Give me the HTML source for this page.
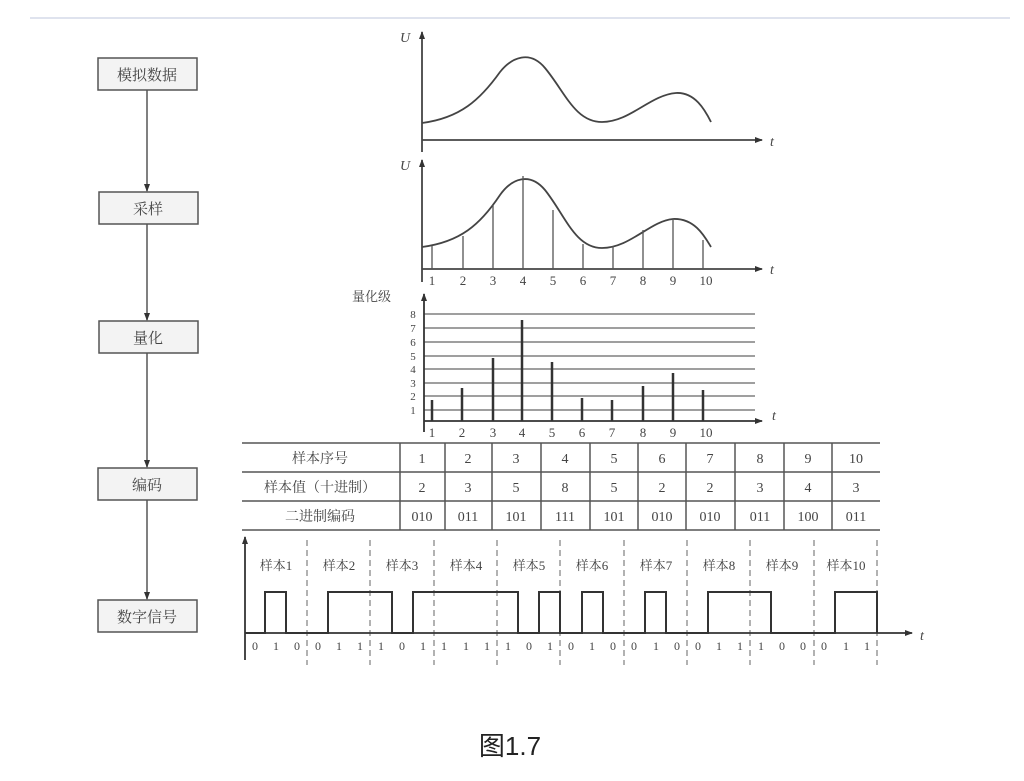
<!DOCTYPE html>
<html><head><meta charset="utf-8"><style>
html,body{margin:0;padding:0;background:#fff;}
svg{display:block;}
text{font-family:"Liberation Serif","Noto Serif CJK SC","Noto Sans CJK SC",serif;fill:#444;}
</style></head><body>
<svg width="1024" height="781" viewBox="0 0 1024 781" xmlns="http://www.w3.org/2000/svg">
<defs>
<marker id="ar" markerWidth="8" markerHeight="8" refX="7" refY="4" orient="auto" markerUnits="userSpaceOnUse"><path d="M0,1 L8,4 L0,7 z" fill="#333"/></marker>
</defs>
<line x1="30" y1="18" x2="1010" y2="18" stroke="#dfe3ee" stroke-width="2"/>

<!-- left flow -->
<g stroke="#555" stroke-width="1.5" fill="#f3f3f3">
<rect x="98" y="58" width="99" height="32"/>
<rect x="99" y="192" width="99" height="32"/>
<rect x="99" y="321" width="99" height="32"/>
<rect x="98" y="468" width="99" height="32"/>
<rect x="98" y="600" width="99" height="32"/>
</g>
<g stroke="#555" stroke-width="1.5" marker-end="url(#ar)">
<line x1="147" y1="90" x2="147" y2="191"/>
<line x1="147" y1="224" x2="147" y2="320"/>
<line x1="147" y1="353" x2="147" y2="467"/>
<line x1="147" y1="500" x2="147" y2="599"/>
</g>
<g font-size="15" text-anchor="middle">
<text x="147" y="80">模拟数据</text>
<text x="148" y="214">采样</text>
<text x="148" y="343">量化</text>
<text x="147" y="490">编码</text>
<text x="147" y="622">数字信号</text>
</g>

<!-- graph 1 -->
<g stroke="#444" stroke-width="1.8" fill="none">
<line x1="422" y1="152" x2="422" y2="32" marker-end="url(#ar)"/>
<line x1="422" y1="140" x2="762" y2="140" marker-end="url(#ar)"/>
<path d="M422,123 C460,118 480,100 500,72 C512,57 530,50 545,68 C565,92 575,122 602,122 C630,122 650,95 676,93 C695,92 705,110 711,122"/>
<!-- graph 2 -->
<line x1="422" y1="282" x2="422" y2="160" marker-end="url(#ar)"/>
<line x1="422" y1="269" x2="762" y2="269" marker-end="url(#ar)"/>
<path d="M422,247 C460,242 480,225 500,195 C512,178 530,172 545,190 C565,215 575,248 602,248 C630,248 650,221 673,219 C695,218 705,237 711,247"/>
</g>
<g stroke="#555" stroke-width="1.3">
<line x1="432" y1="269" x2="432" y2="246"/><line x1="463" y1="269" x2="463" y2="236"/>
<line x1="493" y1="269" x2="493" y2="205"/><line x1="523" y1="269" x2="523" y2="176"/>
<line x1="553" y1="269" x2="553" y2="210"/><line x1="583" y1="269" x2="583" y2="244"/>
<line x1="613" y1="269" x2="613" y2="246"/><line x1="643" y1="269" x2="643" y2="230"/>
<line x1="673" y1="269" x2="673" y2="219"/><line x1="703" y1="269" x2="703" y2="240"/>
</g>
<g font-size="14" font-style="italic">
<text x="400" y="42">U</text><text x="770" y="146">t</text>
<text x="400" y="170">U</text><text x="770" y="274">t</text>
<text x="772" y="420">t</text>
</g>
<g font-size="13" text-anchor="middle">
<text x="432" y="285">1</text><text x="463" y="285">2</text><text x="493" y="285">3</text><text x="523" y="285">4</text><text x="553" y="285">5</text><text x="583" y="285">6</text><text x="613" y="285">7</text><text x="643" y="285">8</text><text x="673" y="285">9</text><text x="706" y="285">10</text>
</g>

<!-- graph 3 -->
<text x="352" y="301" font-size="13">量化级</text>
<g stroke="#666" stroke-width="1.3">
<line x1="424" y1="314" x2="755" y2="314"/><line x1="424" y1="328" x2="755" y2="328"/>
<line x1="424" y1="342" x2="755" y2="342"/><line x1="424" y1="356" x2="755" y2="356"/>
<line x1="424" y1="369" x2="755" y2="369"/><line x1="424" y1="383" x2="755" y2="383"/>
<line x1="424" y1="396" x2="755" y2="396"/><line x1="424" y1="410" x2="755" y2="410"/>
</g>
<g stroke="#333" stroke-width="1.8">
<line x1="424" y1="432" x2="424" y2="294" marker-end="url(#ar)"/>
<line x1="424" y1="421" x2="762" y2="421" marker-end="url(#ar)"/>
</g>
<g stroke="#333" stroke-width="2.5">
<line x1="432" y1="421" x2="432" y2="400"/><line x1="462" y1="421" x2="462" y2="388"/>
<line x1="493" y1="421" x2="493" y2="358"/><line x1="522" y1="421" x2="522" y2="320"/>
<line x1="552" y1="421" x2="552" y2="362"/><line x1="582" y1="421" x2="582" y2="398"/>
<line x1="612" y1="421" x2="612" y2="400"/><line x1="643" y1="421" x2="643" y2="386"/>
<line x1="673" y1="421" x2="673" y2="373"/><line x1="703" y1="421" x2="703" y2="390"/>
</g>
<g font-size="11" text-anchor="middle">
<text x="413" y="318">8</text><text x="413" y="332">7</text><text x="413" y="346">6</text><text x="413" y="360">5</text><text x="413" y="373">4</text><text x="413" y="387">3</text><text x="413" y="400">2</text><text x="413" y="414">1</text>
</g>
<g font-size="13" text-anchor="middle">
<text x="432" y="437">1</text><text x="462" y="437">2</text><text x="493" y="437">3</text><text x="522" y="437">4</text><text x="552" y="437">5</text><text x="582" y="437">6</text><text x="612" y="437">7</text><text x="643" y="437">8</text><text x="673" y="437">9</text><text x="706" y="437">10</text>
</g>

<!-- table -->
<g stroke="#555" stroke-width="1.5">
<line x1="242" y1="443" x2="880" y2="443"/><line x1="242" y1="472" x2="880" y2="472"/>
<line x1="242" y1="501" x2="880" y2="501"/><line x1="242" y1="530" x2="880" y2="530"/>
<line x1="400" y1="443" x2="400" y2="530"/><line x1="445" y1="443" x2="445" y2="530"/>
<line x1="492" y1="443" x2="492" y2="530"/><line x1="541" y1="443" x2="541" y2="530"/>
<line x1="590" y1="443" x2="590" y2="530"/><line x1="638" y1="443" x2="638" y2="530"/>
<line x1="686" y1="443" x2="686" y2="530"/><line x1="735" y1="443" x2="735" y2="530"/>
<line x1="784" y1="443" x2="784" y2="530"/><line x1="832" y1="443" x2="832" y2="530"/>
</g>
<g font-size="14" text-anchor="middle">
<text x="320" y="463">样本序号</text><text x="320" y="492">样本值（十进制）</text><text x="320" y="521">二进制编码</text>
<text x="422" y="463">1</text><text x="468" y="463">2</text><text x="516" y="463">3</text><text x="565" y="463">4</text><text x="614" y="463">5</text><text x="662" y="463">6</text><text x="710" y="463">7</text><text x="760" y="463">8</text><text x="808" y="463">9</text><text x="856" y="463">10</text>
<text x="422" y="492">2</text><text x="468" y="492">3</text><text x="516" y="492">5</text><text x="565" y="492">8</text><text x="614" y="492">5</text><text x="662" y="492">2</text><text x="710" y="492">2</text><text x="760" y="492">3</text><text x="808" y="492">4</text><text x="856" y="492">3</text>
<text x="422" y="521">010</text><text x="468" y="521">011</text><text x="516" y="521">101</text><text x="565" y="521">111</text><text x="614" y="521">101</text><text x="662" y="521">010</text><text x="710" y="521">010</text><text x="760" y="521">011</text><text x="808" y="521">100</text><text x="856" y="521">011</text>
</g>

<!-- digital signal -->
<g stroke="#666" stroke-width="1" stroke-dasharray="6,4">
<line x1="307" y1="540" x2="307" y2="665"/><line x1="370" y1="540" x2="370" y2="665"/>
<line x1="434" y1="540" x2="434" y2="665"/><line x1="497" y1="540" x2="497" y2="665"/>
<line x1="560" y1="540" x2="560" y2="665"/><line x1="624" y1="540" x2="624" y2="665"/>
<line x1="687" y1="540" x2="687" y2="665"/><line x1="750" y1="540" x2="750" y2="665"/>
<line x1="814" y1="540" x2="814" y2="665"/><line x1="877" y1="540" x2="877" y2="665"/>
</g>
<g stroke="#333" stroke-width="1.8" fill="none">
<line x1="245" y1="660" x2="245" y2="537" marker-end="url(#ar)"/>
<line x1="245" y1="633" x2="912" y2="633" marker-end="url(#ar)"/>
<path d="M245,633 H265 V592 H286 V633 H328 V592 H392 V633 H413 V592 H518 V633 H539 V592 H560 V633 H582 V592 H603 V633 H645 V592 H666 V633 H708 V592 H771 V633 H835 V592 H877 V633" stroke-width="2"/>
</g>
<text x="920" y="640" font-size="14" font-style="italic">t</text>
<g font-size="13" text-anchor="middle">
<text x="276" y="570">样本1</text><text x="339" y="570">样本2</text><text x="402" y="570">样本3</text><text x="466" y="570">样本4</text><text x="529" y="570">样本5</text><text x="592" y="570">样本6</text><text x="656" y="570">样本7</text><text x="719" y="570">样本8</text><text x="782" y="570">样本9</text><text x="846" y="570">样本10</text>
</g>
<g font-size="12" text-anchor="middle">
<text x="255" y="650">0</text><text x="276" y="650">1</text><text x="297" y="650">0</text>
<text x="318" y="650">0</text><text x="339" y="650">1</text><text x="360" y="650">1</text>
<text x="381" y="650">1</text><text x="402" y="650">0</text><text x="423" y="650">1</text>
<text x="444" y="650">1</text><text x="466" y="650">1</text><text x="487" y="650">1</text>
<text x="508" y="650">1</text><text x="529" y="650">0</text><text x="550" y="650">1</text>
<text x="571" y="650">0</text><text x="592" y="650">1</text><text x="613" y="650">0</text>
<text x="634" y="650">0</text><text x="656" y="650">1</text><text x="677" y="650">0</text>
<text x="698" y="650">0</text><text x="719" y="650">1</text><text x="740" y="650">1</text>
<text x="761" y="650">1</text><text x="782" y="650">0</text><text x="803" y="650">0</text>
<text x="824" y="650">0</text><text x="846" y="650">1</text><text x="867" y="650">1</text>
</g>

<text x="510" y="755" font-size="26" text-anchor="middle" style="font-family:'Liberation Sans','Noto Sans CJK SC',sans-serif;fill:#222">图1.7</text>
</svg>
</body></html>
